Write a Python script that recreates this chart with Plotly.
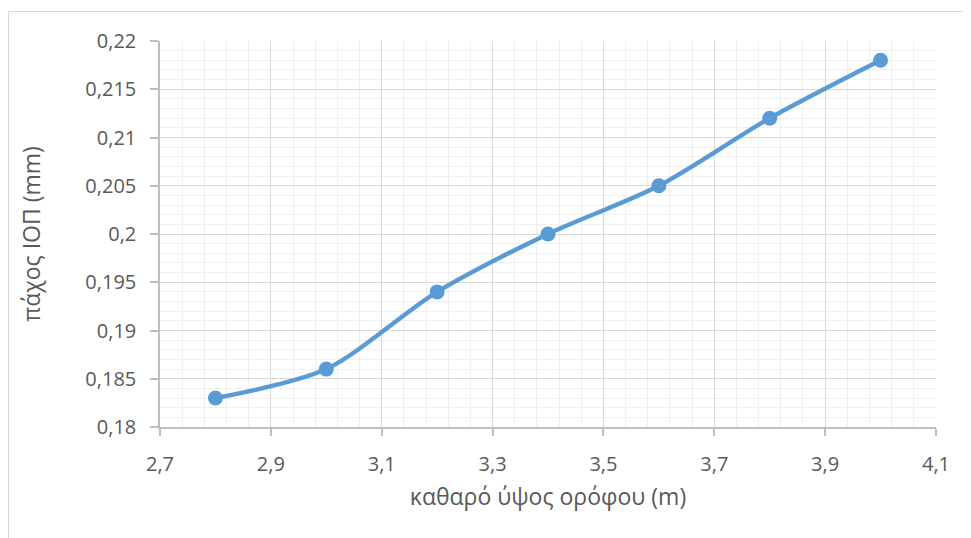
import plotly.graph_objects as go

height_m = [2.8, 3.0, 3.2, 3.4, 3.6, 3.8, 4.0]
thickness_mm = [0.183, 0.186, 0.194, 0.200, 0.205, 0.212, 0.218]

x_tickvals = [2.7, 2.9, 3.1, 3.3, 3.5, 3.7, 3.9, 4.1]
x_ticktext = ["2,7", "2,9", "3,1", "3,3", "3,5", "3,7", "3,9", "4,1"]
y_tickvals = [0.18, 0.185, 0.19, 0.195, 0.2, 0.205, 0.21, 0.215, 0.22]
y_ticktext = ["0,18", "0,185", "0,19", "0,195", "0,2", "0,205", "0,21", "0,215", "0,22"]

x_title = "καθαρό ύψος ορόφου (m)"
y_title = "πάχος ΙΟΠ (mm)"

color = "#5b9bd5"
text_color = "#595959"
font_family = "Open Sans, Lato, sans-serif"

# page body adds an 8px offset; figure sized to fill the remaining window
W, H = 963, 530
L, R, T, B = 152, 35, 33, 111
pw, ph = W - L - R, H - T - B

fig = go.Figure()
fig.add_trace(go.Scatter(
    x=height_m, y=thickness_mm, mode="lines+markers",
    line=dict(color=color, width=4.4, shape="spline", smoothing=0.8),
    marker=dict(color=color, size=15),
    showlegend=False, cliponaxis=False,
))

fig.update_layout(
    width=W, height=H,
    margin=dict(l=L, r=R, t=T, b=B),
    paper_bgcolor="white", plot_bgcolor="white",
    font=dict(family=font_family, color=text_color, size=15),
    separators=",.",
    xaxis=dict(
        range=[2.7, 4.1], tickvals=x_tickvals, ticktext=x_ticktext,
        showgrid=True, gridcolor="#d9d9d9", gridwidth=1,
        minor=dict(dtick=0.04, tick0=2.7, showgrid=True, gridcolor="#efefef", gridwidth=1),
        showline=True, linecolor="#bfbfbf", linewidth=1.5,
        ticks="outside", ticklen=7, tickcolor="#bfbfbf", tickwidth=1.5,
        ticklabelstandoff=11,
        tickfont=dict(size=20, color=text_color),
        title=dict(text=x_title, font=dict(size=23, color=text_color), standoff=13),
        zeroline=False,
    ),
    yaxis=dict(
        range=[0.18, 0.22], tickvals=y_tickvals, ticktext=y_ticktext,
        showgrid=True, gridcolor="#d9d9d9", gridwidth=1,
        minor=dict(dtick=0.001, tick0=0.18, showgrid=True, gridcolor="#efefef", gridwidth=1),
        showline=True, linecolor="#bfbfbf", linewidth=1.5,
        ticks="outside", ticklen=8, tickcolor="#bfbfbf", tickwidth=1.5,
        ticklabelstandoff=10,
        tickfont=dict(size=20, color=text_color),
        title=dict(text=y_title, font=dict(size=23, color=text_color), standoff=38),
        zeroline=False,
    ),
    shapes=[dict(
        type="rect", xref="paper", yref="paper",
        x0=(0.5 - L) / pw, x1=1.2,
        y0=-0.4, y1=(T + ph - 3.5) / ph,
        line=dict(color="#d9d9d9", width=1.2), fillcolor="rgba(0,0,0,0)", layer="below",
    )],
)

fig.write_html("out.html")
